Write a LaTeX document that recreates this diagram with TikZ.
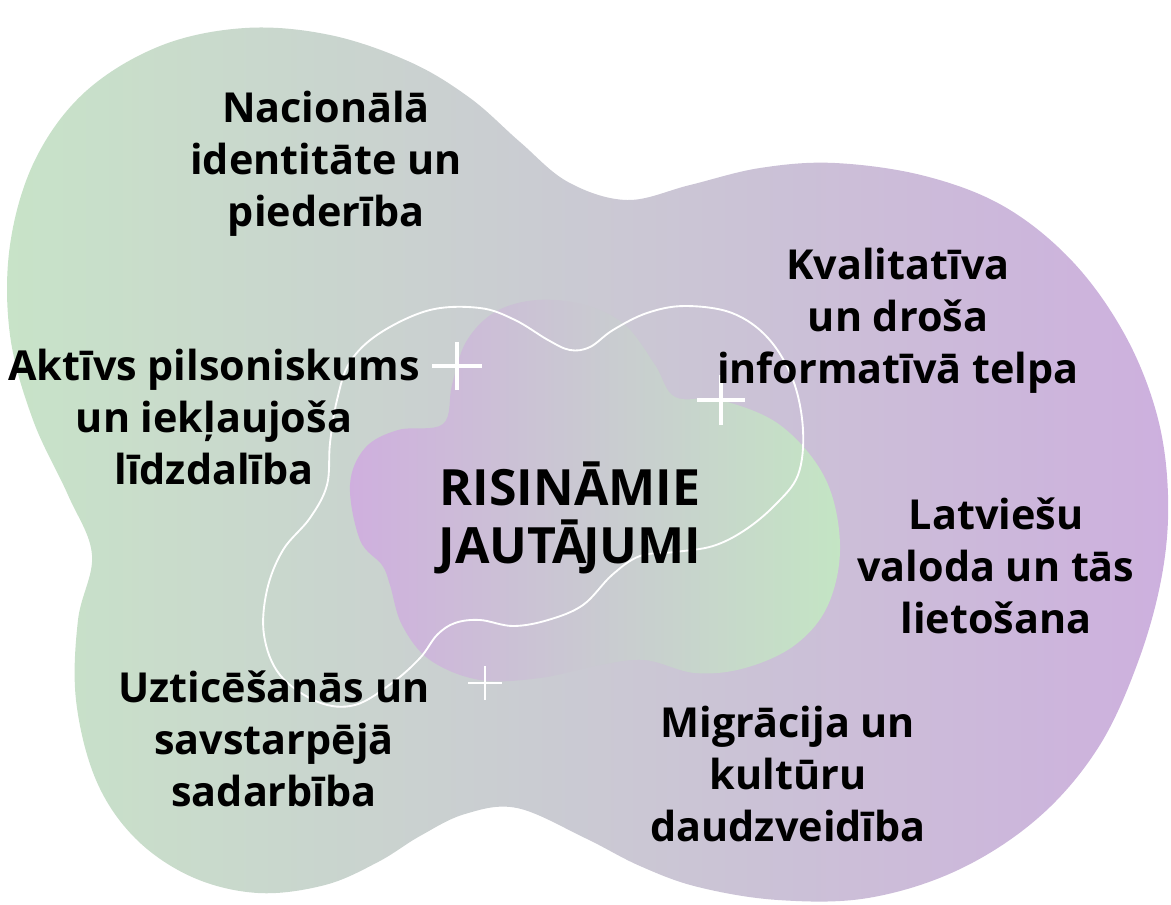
\documentclass[tikz,border=0pt]{standalone}
\usepackage{fontspec}
\setmainfont{Open Sans}
\definecolor{blobgreen}{RGB}{200,227,200}
\definecolor{blobpurple}{RGB}{205,176,222}
\definecolor{ingreen}{RGB}{196,229,196}
\definecolor{inpurple}{RGB}{207,175,222}
\tikzset{
  label/.style={align=center, font=\bfseries\fontsize{31}{39}\selectfont, text=black, inner sep=0pt},
  title/.style={align=center, font=\bfseries\fontsize{37.5}{44}\selectfont, text=black, inner sep=0pt},
  wline/.style={draw=white, line width=1.4pt},
  plusbig/.style={draw=white, line width=3pt},
  plussmall/.style={draw=white, line width=2pt}
}
\begin{document}
\begin{tikzpicture}[x=0.75pt,y=-0.75pt]
\useasboundingbox (0,0) rectangle (1171,904);
% big blob
\shade[left color=blobgreen, right color=blobpurple]
  plot[smooth cycle, tension=0.6] coordinates {
  (245,28) (330,35) (410,62) (470,98) (520,142) (568,182) (627,200) (690,185) (760,168) (835,163) (925,176) (1005,207) (1073,262) (1125,335) (1157,415) (1168,495) (1162,575) (1138,662) (1098,748) (1038,818) (958,870) (868,898) (778,900) (698,887) (640,866) (585,838) (517,808) (465,814) (420,836) (378,862) (325,885) (258,893) (192,877) (135,838) (96,780) (76,700) (78,620) (92,555) (68,495) (33,420) (10,335) (10,245) (35,160) (85,92) (160,46)};
% inner blob
\shade[left color=inpurple, right color=ingreen]
  plot[smooth cycle, tension=0.6] coordinates {
  (350,485) (365,448) (398,430) (443,424) (452,385) (466,342) (495,312) (537,300) (585,305) (625,325) (655,365) (675,397) (720,400) (780,425) (825,478) (840,545) (828,605) (795,645) (745,668) (695,673) (645,660) (600,665) (540,678) (480,680) (430,660) (402,625) (390,585) (382,565) (360,540)};
% white outline
\draw[wline] plot[smooth cycle, tension=0.6] coordinates {
  (590,347) (613,330) (647,313) (685,306) (732,313) (768,338) (793,380) (803,430) (798,475) (775,505) (745,530) (713,546) (675,552) (640,556) (612,575) (583,605) (548,620) (513,626) (480,620) (455,623) (437,635) (420,658) (392,683) (355,705) (318,702) (280,675) (264,635) (267,590) (283,550) (310,518) (327,485) (330,443) (337,400) (350,362) (380,333) (430,310) (480,308) (515,320) (548,340) (570,350)};
% plus signs
\coordinate (p1) at (457,366);
\coordinate (p2) at (721,400);
\coordinate (p3) at (485,683);
\draw[plusbig] ([xshift=-18.5pt]p1) -- ([xshift=18.5pt]p1);
\draw[plusbig] ([yshift=-18pt]p1) -- ([yshift=18pt]p1);
\draw[plusbig] ([xshift=-18pt]p2) -- ([xshift=18pt]p2);
\draw[plusbig] ([yshift=-18.5pt]p2) -- ([yshift=18.5pt]p2);
\draw[plussmall] ([xshift=-12.5pt]p3) -- ([xshift=12.5pt]p3);
\draw[plussmall] ([yshift=-12.5pt]p3) -- ([yshift=12.5pt]p3);
% labels
\node[label] (nac) at (326,164) {Nacionālā\\identitāte un\\piederība};
\node[label] (akt) at (214,417) {Aktīvs pilsoniskums\\un iekļaujoša\\līdzdalība};
\node[label] (kva) at (898,321) {Kvalitatīva\\un droša\\informatīvā telpa};
\node[title] (ris) at (570,518) {RISINĀMIE\\JAUTĀ\kern-3pt JUMI};
\node[label] (lat) at (996,566) {Latviešu\\valoda un tās\\lietošana};
\node[label] (uzt) at (274,739) {Uzticēšanās un\\savstarpējā\\sadarbība};
\node[label] (mig) at (788,774) {Migrācija un\\kultūru\\daudzveidība};
\end{tikzpicture}
\end{document}
